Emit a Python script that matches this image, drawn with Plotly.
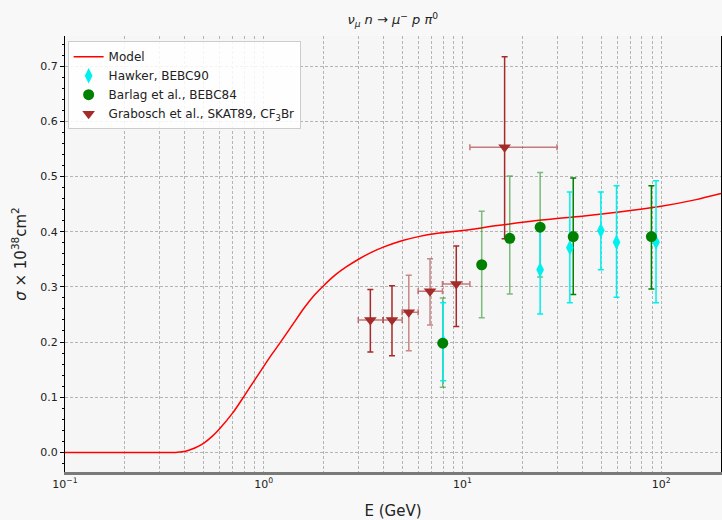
import plotly.graph_objects as go

# ---- Model curve ----
model_E = [0.1, 0.3, 0.36, 0.39, 0.42, 0.45, 0.5, 0.55, 0.6, 0.7, 0.8, 0.9, 1.0, 1.1, 1.2,
           1.4, 1.6, 1.8, 2.0, 2.3, 2.6, 3.0, 3.5, 4.0, 5.0, 6.0, 7.5, 10, 15, 25, 40, 60,
           100, 150, 200]
model_sigma = [0, 0, 0, 0.001, 0.004, 0.008, 0.017, 0.029, 0.043, 0.072, 0.103, 0.131, 0.156,
               0.178, 0.197, 0.232, 0.262, 0.285, 0.302, 0.322, 0.336, 0.350, 0.363, 0.372,
               0.384, 0.391, 0.397, 0.402, 0.411, 0.421, 0.428, 0.435, 0.446, 0.458, 0.469]

# ---- Hawker, BEBC90 ----
hawker_E = [8.0, 24.6, 34.7, 49.7, 59.6, 94.2]
hawker_sigma = [0.20, 0.331, 0.371, 0.402, 0.381, 0.381]
hawker_err_up = [0.071, 0.08, 0.101, 0.07, 0.102, 0.111]
hawker_err_dn = [0.07, 0.08, 0.10, 0.071, 0.10, 0.11]

# ---- Barlag et al., BEBC84 ----
barlag_E = [7.96, 12.5, 17.3, 24.6, 36.1, 89.3]
barlag_sigma = [0.198, 0.34, 0.388, 0.408, 0.391, 0.391]
barlag_err_up = [0.082, 0.097, 0.113, 0.099, 0.106, 0.092]
barlag_err_dn = [0.08, 0.096, 0.101, 0.09, 0.105, 0.095]
barlag_dark = [False, False, False, False, True, True]

# ---- Grabosch et al., SKAT89, CF3Br ----
grab_E = [3.44, 4.42, 5.37, 6.87, 9.31, 16.3]
grab_sigma = [0.240, 0.240, 0.254, 0.292, 0.305, 0.553]
grab_err_up = [0.055, 0.062, 0.067, 0.059, 0.069, 0.164]
grab_err_dn = [0.058, 0.065, 0.070, 0.061, 0.077, 0.166]
grab_E_lo = [2.99, 3.99, 4.97, 5.98, 7.93, 10.9]
grab_E_hi = [3.98, 4.97, 5.98, 7.93, 10.9, 29.9]
grab_dark = [True, True, False, False, True, True]

RED = "#ff0000"
CYAN = "#00f0f0"
GREEN = "#008000"
BROWN = "#a52a2a"

fig = go.Figure()

fig.add_trace(go.Scatter(x=model_E, y=model_sigma, mode="lines", name="Model",
                         line=dict(color=RED, width=1.5, shape="spline", smoothing=0.7)))


def sub(lst, mask, val):
    return [v for v, m in zip(lst, mask) if m == val]


# error-bar-only traces (light / dark)
for dark in (False, True):
    ecol = GREEN if dark else "rgba(0,128,0,0.5)"
    fig.add_trace(go.Scatter(
        x=sub(barlag_E, barlag_dark, dark), y=sub(barlag_sigma, barlag_dark, dark),
        mode="markers", marker=dict(opacity=0), showlegend=False, hoverinfo="skip",
        error_y=dict(type="data", symmetric=False,
                     array=sub(barlag_err_up, barlag_dark, dark),
                     arrayminus=sub(barlag_err_dn, barlag_dark, dark),
                     color=ecol, thickness=1.5, width=3)))

fig.add_trace(go.Scatter(
    x=hawker_E, y=hawker_sigma, mode="markers", showlegend=False, hoverinfo="skip",
    marker=dict(opacity=0),
    error_y=dict(type="data", symmetric=False, array=hawker_err_up, arrayminus=hawker_err_dn,
                 color=CYAN, thickness=1.5, width=3)))

for dark in (False, True):
    ecol = BROWN if dark else "rgba(165,42,42,0.55)"
    E = sub(grab_E, grab_dark, dark)
    lo = sub(grab_E_lo, grab_dark, dark)
    hi = sub(grab_E_hi, grab_dark, dark)
    fig.add_trace(go.Scatter(
        x=E, y=sub(grab_sigma, grab_dark, dark),
        mode="markers", marker=dict(opacity=0), showlegend=False, hoverinfo="skip",
        error_y=dict(type="data", symmetric=False,
                     array=sub(grab_err_up, grab_dark, dark),
                     arrayminus=sub(grab_err_dn, grab_dark, dark),
                     color=ecol, thickness=1.5, width=3),
        error_x=dict(type="data", symmetric=False,
                     array=[h - e for h, e in zip(hi, E)],
                     arrayminus=[e - l for e, l in zip(E, lo)],
                     color="rgba(165,42,42,0.6)", thickness=1.5, width=3)))

# marker traces (legend)
fig.add_trace(go.Scatter(x=hawker_E, y=hawker_sigma, mode="markers", name="Hawker, BEBC90",
                         marker=dict(symbol="diamond-tall", size=11, color=CYAN)))
fig.add_trace(go.Scatter(x=barlag_E, y=barlag_sigma, mode="markers", name="Barlag et al., BEBC84",
                         marker=dict(symbol="circle", size=11, color=GREEN)))
fig.add_trace(go.Scatter(x=grab_E, y=grab_sigma, mode="markers",
                         name="Grabosch et al., SKAT89, CF<sub>3</sub>Br",
                         marker=dict(symbol="triangle-down", size=11, color=BROWN)))

x_tickvals = [0.1, 1, 10, 100]
x_ticktext = ["10<sup>−1</sup>", "10<sup>0</sup>", "10<sup>1</sup>", "10<sup>2</sup>"]

font_family = "DejaVu Sans"
GRID = "#b4b4b4"

fig.update_layout(
    width=722, height=520,
    margin=dict(l=65, r=1, t=36, b=48),
    paper_bgcolor="#f8f8f8",
    plot_bgcolor="#f6f6f6",
    font=dict(family=font_family, size=11, color="#222222"),
    title=dict(text="<i>ν<sub>μ</sub> n</i> → <i>μ</i><sup>−</sup> <i>p π</i><sup>0</sup>",
               x=0.544, xanchor="center", y=0.962, yanchor="middle",
               font=dict(size=13, family=font_family, color="#222222")),
    showlegend=True,
    legend=dict(x=0.004, y=0.988, xanchor="left", yanchor="top",
                bgcolor="rgba(255,255,255,0.85)", bordercolor="#cccccc", borderwidth=1,
                font=dict(size=12, family=font_family, color="#222222"),
                tracegroupgap=0, itemwidth=30),
)

fig.update_xaxes(
    type="log", range=[-1, 2.30103],
    tickmode="array", tickvals=x_tickvals, ticktext=x_ticktext,
    showgrid=True, gridcolor=GRID, griddash="3px,2px", gridwidth=1,
    minor=dict(dtick="D1", showgrid=True, gridcolor=GRID, griddash="3px,2px", gridwidth=1,
               ticks=""),
    showline=True, linecolor="#7a7a7a", linewidth=2.5,
    ticks="", zeroline=False,
    tickfont=dict(size=11, family=font_family, color="#222222"),
    title=dict(text="E (GeV)", font=dict(size=15, family=font_family, color="#222222"),
               standoff=18),
)
fig.update_yaxes(
    range=[-0.0355, 0.7545],
    tick0=0, dtick=0.1, tickformat=".1f",
    showgrid=True, gridcolor=GRID, griddash="3px,2px", gridwidth=1,
    showline=True, linecolor="#000000", linewidth=1, mirror=True,
    ticks="outside", ticklen=4, tickcolor="#000000",
    minor=dict(dtick=0.02, ticks="outside", ticklen=2, tickcolor="#000000", showgrid=False),
    zeroline=False,
    tickfont=dict(size=11, family=font_family, color="#222222"),
    title=dict(text="<i>σ</i> × 10<sup>38</sup>cm<sup>2</sup>",
               font=dict(size=15, family=font_family, color="#222222"), standoff=10),
)

fig.write_html("out.html")
